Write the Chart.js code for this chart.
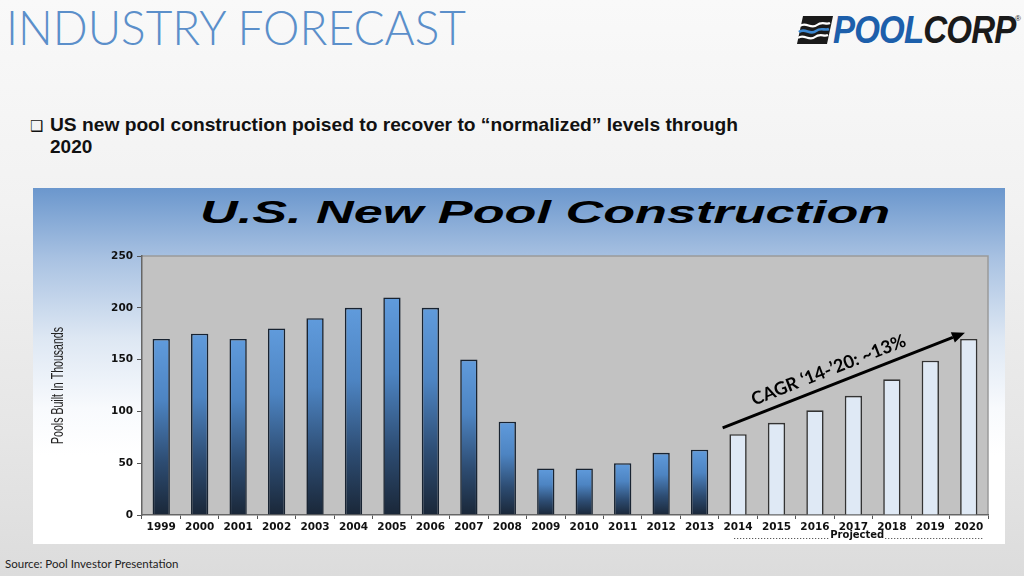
<!DOCTYPE html>
<html><head><meta charset="utf-8">
<script src="https://cdn.jsdelivr.net/npm/chart.js@4.4.1/dist/chart.umd.min.js"></script>
<style>
html,body{margin:0;padding:0;}
body{width:1024px;height:576px;position:relative;overflow:hidden;
 background:linear-gradient(#f9f9f9 0%,#f2f2f2 35%,#e6e6e6 75%,#dcdcdc 100%);
 font-family:"Liberation Sans",Arial,sans-serif;}
.fit{display:inline-block;white-space:nowrap;transform-origin:0 0;position:absolute;}
#hdr{left:6px;top:1px;font-family:Lato,"Open Sans",sans-serif;font-weight:300;font-size:48px;line-height:52px;color:#5b8fca;}
#logo{position:absolute;left:797px;top:15px;height:30px;}
#logoText{left:833px;top:9px;font-family:"Liberation Sans Narrow","Liberation Sans",sans-serif;font-weight:bold;font-style:italic;font-size:38px;line-height:42px;letter-spacing:-1px;}
#reg{position:absolute;left:1015px;top:14px;font-size:8px;color:#222;}
#bullet{position:absolute;left:30px;top:114px;font-weight:bold;font-size:19px;line-height:22px;color:#111;}
#bullet .box{position:absolute;left:0;top:1px;font-family:"DejaVu Sans";font-weight:normal;font-size:15px;}
#btxt{left:20px;top:0;}
#btxt2{position:absolute;left:20px;top:22px;}
#source{position:absolute;left:5px;top:557px;font-family:Lato,"Open Sans",sans-serif;font-size:11.5px;color:#222;}
#panel{position:absolute;left:33px;top:188px;width:972px;height:356px;
 background:linear-gradient(#6b97cd 0%,#a9c2e2 20%,#dde7f3 42%,#f8fafd 62%,#ffffff 75%,#ffffff 100%);}
#ctitle{top:6px;font-family:"Liberation Sans",Arial,sans-serif;font-weight:bold;font-style:italic;font-size:32px;line-height:36px;color:#000;}
#chart{position:absolute;left:0;top:0;}
</style></head>
<body>
<div id="hdr" class="fit">INDUSTRY FORECAST</div>
<svg id="logo" width="36" height="30" viewBox="0 0 36 30">
 <polygon points="6,1 36,1 30,29 0,29" fill="#1a1a1a"/>
 <path d="M3,11 C9,6 14,15 20,10 C25,6 29,10 33,8" stroke="#ffffff" stroke-width="2.2" fill="none"/>
 <path d="M2,17 C8,12 13,21 19,16 C24,12 28,16 32,14" stroke="#3a86d0" stroke-width="2.6" fill="none"/>
 <path d="M1,23 C7,18 12,27 18,22 C23,18 27,22 31,20" stroke="#ffffff" stroke-width="2.2" fill="none"/>
</svg>
<div id="logoText" class="fit"><span style="color:#1d5fab">POOL</span><span style="color:#1a1a1a">CORP</span></div>
<div id="reg">®</div>
<div id="bullet"><span class="box">❑</span><span class="fit" id="btxt">US new pool construction poised to recover to “normalized” levels through</span><span id="btxt2">2020</span></div>
<div id="panel">
 <div id="ctitle" class="fit">U.S. New Pool Construction</div>
 <canvas id="chart" width="972" height="356"></canvas>
</div>
<div id="source">Source: Pool Investor Presentation</div>
<script>
// ---- data ----
const years = ["1999","2000","2001","2002","2003","2004","2005","2006","2007","2008","2009","2010","2011","2012","2013","2014","2015","2016","2017","2018","2019","2020"];
const poolsBuilt = [170,175,170,180,190,200,210,200,150,90,45,45,50,60,63,78,89,101,115,131,149,170];
const firstProjectedYear = "2014";
const yTicks = [0,50,100,150,200,250];
const chartTitle = "U.S. New Pool Construction";
const yAxisTitle = "Pools Built In Thousands";
const projectedLabel = "Projected";
const cagrLabel = "CAGR ‘14-’20: ~13%";
const cagrFrom = {year:"2014", value:84};
const cagrTo = {year:"2020", value:176};

// ---- fit helpers ----
function fit(id, w){const el=document.getElementById(id);const cw=el.offsetWidth;el.style.transform='scaleX('+(w/cw)+')';return el;}
fit('hdr', 460);
fit('logoText', 182);
fit('btxt', 688);
const ct = document.getElementById('ctitle');
ct.textContent = chartTitle;
const ctw = ct.offsetWidth;
const ctTarget = 690;
ct.style.transform='scaleX('+(ctTarget/ctw)+')';
ct.style.left = (545-33-ctTarget/2)+'px';

const projIdx = years.indexOf(firstProjectedYear);
function isProj(i){return i>=projIdx;}

const plotBg = {
 id:'plotBg',
 beforeDraw(chart){
  const {ctx, chartArea:a} = chart;
  ctx.save();
  ctx.fillStyle='#c2c2c2';
  ctx.fillRect(a.left,a.top,a.right-a.left,a.bottom-a.top);
  ctx.strokeStyle='#9a9a9a';ctx.lineWidth=1.5;
  ctx.beginPath();ctx.moveTo(a.left,a.top);ctx.lineTo(a.right,a.top);ctx.lineTo(a.right,a.bottom);ctx.stroke();
  ctx.restore();
 }
};

const annot = {
 id:'annot',
 afterDatasetsDraw(chart){
  const {ctx, scales:{x,y}, chartArea:a} = chart;
  // y axis title (condensed)
  ctx.save();
  ctx.font='17px "Liberation Sans", Arial, sans-serif';
  const tW = ctx.measureText(yAxisTitle).width;
  ctx.translate(25, (a.top+a.bottom)/2);
  ctx.rotate(-Math.PI/2);
  ctx.scale(117/tW,1);
  ctx.fillStyle='#222';ctx.textAlign='center';ctx.textBaseline='middle';
  ctx.fillText(yAxisTitle,0,0);
  ctx.restore();

  const step = x.getPixelForValue(1)-x.getPixelForValue(0);
  const x1 = x.getPixelForValue(years.indexOf(cagrFrom.year)) - 0.4*step;
  const y1 = y.getPixelForValue(cagrFrom.value);
  const x2 = x.getPixelForValue(years.indexOf(cagrTo.year)) - 0.1*step;
  const y2 = y.getPixelForValue(cagrTo.value);
  const ang = Math.atan2(y2-y1, x2-x1);
  ctx.save();
  ctx.strokeStyle='#000';ctx.fillStyle='#000';ctx.lineWidth=3;
  const hl=13, hw=5.5;
  const bx = x2 - hl*Math.cos(ang), by = y2 - hl*Math.sin(ang);
  ctx.beginPath();ctx.moveTo(x1,y1);ctx.lineTo(bx,by);ctx.stroke();
  ctx.beginPath();ctx.moveTo(x2,y2);
  ctx.lineTo(bx + hw*Math.sin(ang), by - hw*Math.cos(ang));
  ctx.lineTo(bx - hw*Math.sin(ang), by + hw*Math.cos(ang));
  ctx.closePath();ctx.fill();
  // label
  const t=0.46, off=15;
  const mx = x1+(x2-x1)*t + off*Math.sin(ang);
  const my = y1+(y2-y1)*t - off*Math.cos(ang);
  ctx.translate(mx,my);ctx.rotate(ang);
  ctx.font='bold 18px Lato, "Open Sans", sans-serif';
  ctx.textAlign='center';ctx.textBaseline='middle';
  ctx.fillText(cagrLabel,0,0);
  ctx.restore();
  // projected
  ctx.save();
  const px1 = x.getPixelForValue(projIdx) - 0.1*step;
  const px2 = x.getPixelForValue(years.length-1) + 0.4*step;
  const pcx = x.getPixelForValue(years.indexOf("2017")) + 0.1*step;
  const py = a.bottom + 23;
  ctx.font='bold 10px "DejaVu Sans", sans-serif';
  ctx.textAlign='center';ctx.textBaseline='alphabetic';ctx.fillStyle='#111';
  ctx.fillText(projectedLabel,pcx,py);
  const tw = ctx.measureText(projectedLabel).width;
  ctx.strokeStyle='#333';ctx.lineWidth=1;ctx.setLineDash([1,2]);
  ctx.beginPath();ctx.moveTo(px1,py+0.5);ctx.lineTo(pcx-tw/2-1,py+0.5);
  ctx.moveTo(pcx+tw/2+1,py+0.5);ctx.lineTo(px2,py+0.5);ctx.stroke();
  ctx.restore();
 }
};

function barFill(c){
 if(c.type!=='data') return '#5a8fcc';
 const i=c.dataIndex;
 if(isProj(i)) return '#dfe9f5';
 const chart=c.chart;
 if(!chart.chartArea) return '#4a7fb8';
 const y=chart.scales.y;
 const top=y.getPixelForValue(poolsBuilt[i]), bot=y.getPixelForValue(0);
 const g=chart.ctx.createLinearGradient(0,top,0,bot);
 g.addColorStop(0,'#609bdc');
 g.addColorStop(0.35,'#4d84c2');
 g.addColorStop(0.7,'#2d4c72');
 g.addColorStop(1,'#1a2738');
 return g;
}

new Chart(document.getElementById('chart'),{
 type:'bar',
 data:{labels:years,datasets:[{
  data:poolsBuilt,
  backgroundColor:barFill,
  borderColor:(c)=>isProj(c.dataIndex)?'#333333':'#182331',
  borderWidth:1.6,
  borderSkipped:'bottom',
  categoryPercentage:1,
  barPercentage:0.45
 }]},
 options:{
  responsive:false,animation:false,
  devicePixelRatio:1,
  layout:{padding:{top:68,right:17,bottom:0,left:0}},
  plugins:{legend:{display:false},tooltip:{enabled:false},title:{display:false}},
  scales:{
   x:{
    grid:{display:true,drawOnChartArea:false,offset:true,tickLength:4,color:'#555',lineWidth:1},
    border:{display:true,color:'#666',width:1.5},
    ticks:{font:{family:'"DejaVu Sans", sans-serif',weight:'bold',size:10.5},color:'#111',maxRotation:0,autoSkip:false,padding:2},
    afterFit(s){s.height=29;}
   },
   y:{
    min:0,max:250,
    afterBuildTicks(s){s.ticks=yTicks.map(v=>({value:v}));},
    grid:{display:true,drawOnChartArea:false,tickLength:5,color:'#555',lineWidth:1},
    border:{display:true,color:'#666',width:1.5},
    ticks:{font:{family:'"DejaVu Sans", sans-serif',weight:'bold',size:10.5},color:'#111',padding:4},
    title:{display:false,text:yAxisTitle},
    afterFit(s){s.width=109;}
   }
  }
 },
 plugins:[plotBg,annot]
});
</script>
</body></html>
